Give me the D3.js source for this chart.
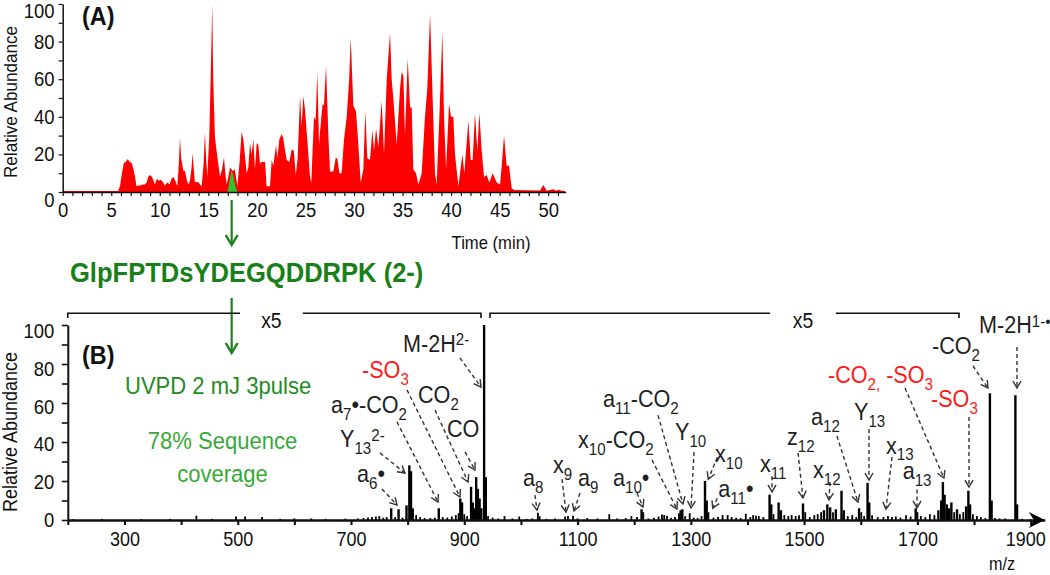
<!DOCTYPE html>
<html><head><meta charset="utf-8">
<script src="https://cdn.jsdelivr.net/npm/d3@7"></script>
<style>
body{margin:0;background:#fff;}
svg{display:block;font-family:"Liberation Sans",Arial,Helvetica,sans-serif;}
</style>
</head><body>
<svg id="c" width="1050" height="575"></svg>
<script>
// ---------------- DATA ----------------
// Panel A: base peak chromatogram (time in min, relative abundance)
const chromTimes = [0,5.7,5.9,6.1,6.3,6.5,6.7,6.9,7.1,7.3,7.45,7.6,7.8,8.0,8.2,8.4,8.65,8.8,9.0,9.2,9.4,9.5,9.7,9.9,10.1,10.3,10.5,10.8,11.0,11.2,11.4,11.6,11.8,11.95,12.08,12.2,12.42,12.6,12.8,12.94,13.1,13.25,13.38,13.5,13.62,13.8,14.0,14.14,14.31,14.5,14.65,14.75,14.89,15.1,15.3,15.4,15.5,15.68,15.85,16.02,16.2,16.4,16.61,16.75,16.88,17.05,17.23,17.4,17.57,17.7,17.85,17.98,18.2,18.43,18.6,18.8,18.94,19.12,19.29,19.45,19.63,19.8,19.98,20.15,20.32,20.45,20.59,20.84,21.0,21.35,21.52,21.69,21.97,22.1,22.31,22.55,22.7,22.9,23.07,23.34,23.58,23.8,24.0,24.2,24.44,24.6,24.78,24.95,25.3,25.47,25.6,25.88,26.05,26.22,26.4,26.5,26.77,26.9,27.12,27.36,27.53,27.87,28.11,28.28,28.49,28.73,28.97,29.25,29.5,29.66,29.93,30.21,30.45,30.69,30.96,31.17,31.37,31.65,31.89,32.06,32.27,32.51,32.85,33.09,33.37,33.71,33.88,34.05,34.4,34.74,34.91,35.08,35.25,35.53,35.77,35.94,36.11,36.39,36.63,36.97,37.31,37.55,37.83,38.1,38.34,38.51,38.79,39.1,39.27,39.48,39.79,39.99,40.23,40.4,40.75,41.16,41.36,41.78,42.02,42.22,42.46,42.7,42.91,43.15,43.39,43.66,43.94,44.28,44.69,45.04,45.21,45.45,45.72,45.96,46.24,46.48,49.16,49.5,49.84,50.53,50.8,51.04,51.4,51.73];
const chromValues = [0.5,0.5,3,10,15.5,16,17.5,16,15.5,12,8,3,3.5,3.5,4,3.8,5,8,9,8,5.5,4,7,6,6.5,5.5,3.5,5,4,7,8,6,3,14,29,18,11.5,11,6,4,6,12,20.5,12,5,5.5,5,4,3,14,31.5,20,8,30,75,100,60,29,22,15,8,12,18.4,10,4,8,13,12,11,12.5,8,3,15,32,28,18,10,13,26,20,28,12,26,25,15,16,16,16,3,3,17,14,25,18,28,30.7,29,22,17,16,22.6,22,9,18,51,35,51,44,20,8,5,40,38,64,25,32,47,46,67,30,10.8,11,17.9,18,10,10,28,40,60,82,46,42.7,25,5,12,43,18,17,33,22,33.8,24,48.4,20,60,84.4,60,49.8,25,55,63.7,62,30,71,45,45,12,10,4,10,40,55,95,50,10,4,40,85,40,12,47,40,40,20,3,20,10,38,17,17,41.8,22,42,22,8,9,5,10,5,4,14,30,14,14,2,1,0.8,3.7,0.7,1.5,0.7,1.2,0.7,0.5];
// highlighted precursor elution (green)
const greenTimes  = [16.95,17.1,17.25,17.4,17.55,17.7,17.85,18.0];
const greenValues = [0,3,8,11.7,9,5,2,0];
const xTicksA = d3.range(0,52,1);      // labelled every 5 min
const yTicksA = d3.range(0,101,10);    // labelled every 20

// Panel B: UVPD spectrum (m/z, displayed relative abundance)
const specMz  = [210,260,330,380,427,455,497,513,543,575,600,630,655,690,712,722,730,737,744,750,757,763,771,778,784,791,798,803,806,809,815,822,830,840,848,855,862,870,878,885,890,893,896,900,905,912,915,918,921,924,927,930,935,938,942,
950,960,971,985,997,1010,1020,1030,1033,1045,1060,1078,1083,1092,1100,1117,1135,1156,1170,1185,1195,1205,1213,1216,1225,1235,1243,1249,1253,1258,1265,1272,1279,1282,1285,1290,1298,1305,1312,1319,1325,1328,1331,1340,1348,1356,1365,1372,1380,1388,1397,1405,1410,1415,1420,1428,1439,1442,1446,1455,1459,1465,1472,1478,1485,1491,1498,1502,1510,1518,1524,1530,1535,1541,1546,1551,1556,1566,1570,1577,1585,1592,1597,1601,1606,1612,1615,1620,1630,1640,1648,1655,1662,1670,1680,1688,1697,1700,1706,1714,1722,1730,1737,1742,1745,1748,1752,1756,1760,1765,1770,1775,1781,1786,1790,1793,1798,1805,1812,1820,1828,1831,1837,1845,1855,1873,1876,1885,1900,1915];
const specInt = [0.5,0.6,0.5,0.6,2.2,0.6,1.8,1.8,1.5,0.6,0.8,0.8,0.6,0.7,0.8,1.0,1.3,1.5,1.8,2.0,1.2,1.5,6,1.5,5.5,1.2,7.5,28,25,6,2.5,1.5,1.0,1.0,1.2,6,1.5,1.2,1.8,2.5,3.5,11,9,3,2,17,9,6,22,16,11,6,100,22,2,
1.2,0.8,2,0.8,1.8,0.6,0.8,3.7,2,0.6,0.8,1.8,2,2.2,0.8,1.0,0.8,3,0.8,1.0,2,1.5,5.5,4,0.8,1.2,1.8,2.8,2.6,2.2,1.2,1.5,3.5,5,5.5,2,3.5,1.2,1.0,2,20,10,4,1.2,1.5,2.5,2.5,1.5,1.2,1.0,3.2,1.5,2.5,2.2,2.0,1.5,13,8,3,9,5,2.5,2,2.5,2,2.5,8.5,4,1.5,2.5,3,4,5,8,6.5,4,5.5,15,5,2,2.5,1.5,6,4,2,19,9,2.5,1.5,1.5,2,1.5,1.8,1.2,2.5,1.8,6,4,2,1.5,3,2.5,5,10,19.5,13,8,6,9,4,5.5,3,4,7,15,8,3,2,1.5,1,65,10,1,0.8,0.8,64,8,0.6,0.5,0.5];
const xTicksB = d3.range(200,1901,100);  // labelled at 300, 500, ... 1900
const yTicksB = d3.range(0,101,10);      // labelled every 20

// Fragment annotations: label text, label anchor (m/z, abundance), arrow start and end
const annText = ["M-2H^{2-}","-SO_{3}","CO_{2}","a_{7}•-CO_{2}","CO","Y_{13}^{2-}","a_{6}•","a_{8}","x_{9}","a_{9}","a_{10}•","x_{10}-CO_{2}","a_{11}-CO_{2}","Y_{10}","x_{10}","a_{11}•","x_{11}","z_{12}","x_{12}","a_{12}","Y_{13}","x_{13}","a_{13}","-CO_{2,} -SO_{3}","-SO_{3}","-CO_{2}","M-2H^{1-•}"];
const annMz   = [791.8,719.4,818.3,664.7,869.5,680.6,710.6,1003.6,1056.6,1100.8,1162.5,1100.8,1144.9,1272,1342.6,1348.5,1422.1,1469.7,1515.6,1512.1,1588,1644.5,1674,1542.1,1724,1725.8,1808.7];
const annInt  = [86.2,72.8,60.0,54.9,42.6,37.4,19.5,17.4,24.1,17.4,17.4,36.9,57.9,41.0,29.7,11.8,24.6,38.5,21.5,48.7,51.3,34.0,20.8,70.3,57.9,85.1,95.9];
const arrowFromMz  = [892.4,798.9,848.3,781.2,901.3,751.2,754.7,1024.8,1072.5,1104.3,1204.9,1231.4,1242,1305.6,1346.7,1346.7,1443.3,1489.2,1545.7,1558,1614.5,1655.1,1699.3,1678.1,1791.1,1798.1,1875.8];
const arrowFromInt = [83.1,66.7,56.4,50.3,34.9,34.4,15.9,12.8,21.0,13.8,13.8,30.8,53.8,34.9,32.2,11.1,22.5,34.4,19.5,43.1,46.7,32.3,15.6,67.7,52.8,79.0,88.7];
const arrowToMz    = [929.5,892.4,906.6,853.6,918.9,795.3,781.2,1028.4,1079.6,1093.7,1215.5,1275.5,1286.1,1300.3,1330.8,1338.6,1443.3,1498,1543.9,1595.1,1614.5,1644.5,1699.3,1746.9,1791.1,1824.6,1875.8];
const arrowToInt   = [68.2,11.8,19.5,9.2,25.6,24.1,7.7,5.1,4.1,4.6,6.7,5.6,8.2,6.2,20.9,6.0,14.4,11.3,10.3,9.2,20.5,5.6,6.2,21.5,16.9,67.7,67.7];
const sulfateLabels = ["-SO_{3}","-CO_{2,} -SO_{3}"];   // drawn in red

// x5 magnification brackets (m/z)
const bracketStart = [200,945.4];
const bracketEnd   = [929.5,1773.4];
const gapStart     = [504,1440];
const gapEnd       = [615,1556];
const bracketLabel = ["x5","x5"];

// Texts
const peptide = "GlpFPTDsYDEGQDDRPK (2-)";
const method1 = "UVPD 2 mJ 3pulse";
const method2 = ["78% Sequence","coverage"];

// ---------------- DRAW ----------------
const FONT = '"Liberation Sans", Arial, Helvetica, sans-serif';
const SX = 0.9; // horizontal text compression of the original
const svg = d3.select('#c');
const defs = svg.append('defs');
defs.append('marker').attr('id','dh').attr('markerUnits','userSpaceOnUse')
  .attr('markerWidth',14).attr('markerHeight',14).attr('viewBox','-10 -7 12 14')
  .attr('refX',0).attr('refY',0).attr('orient','auto')
  .append('path').attr('d','M-7,-4L0,0L-7,4').attr('fill','none')
  .attr('stroke','#333').attr('stroke-width',1.4);
defs.append('marker').attr('id','gh').attr('markerUnits','userSpaceOnUse')
  .attr('markerWidth',20).attr('markerHeight',20).attr('viewBox','-14 -10 16 20')
  .attr('refX',0).attr('refY',0).attr('orient','auto')
  .append('path').attr('d','M-10,-6L0,0L-10,6').attr('fill','none')
  .attr('stroke','#1b7f1b').attr('stroke-width',2.4);

function rich(parent, x, y, markup, size, color, anchor, weight){
  const g = parent.append('g').attr('transform',`translate(${x},${y}) scale(${SX},1)`);
  const t = g.append('text').attr('font-size',size).attr('fill',color)
    .attr('text-anchor',anchor||'start').attr('font-weight',weight||'normal').attr('font-family',FONT);
  const parts = markup.match(/_\{[^}]*\}|\^\{[^}]*\}|[^_^]+/g);
  let off = 0;
  parts.forEach(p=>{
    let mode=0, s=p;
    if(p.startsWith('_{')){mode=1;s=p.slice(2,-1);} else if(p.startsWith('^{')){mode=2;s=p.slice(2,-1);}
    const target = mode===1 ? size*0.28 : mode===2 ? -size*0.27 : 0;
    t.append('tspan').attr('dy',target-off).attr('font-size',mode?size*0.7:size).text(s);
    off = target;
  });
  return g;
}
function styleAxis(g, fs, sw){
  g.select('.domain').attr('stroke','#111').attr('stroke-width',sw);
  g.selectAll('.tick line').attr('stroke','#111').attr('stroke-width',sw*0.8);
  g.selectAll('.tick text').attr('font-size',fs).attr('font-family',FONT).attr('fill','#111')
    .attr('transform',`scale(${SX},1)`);
}

// ----- Panel A -----
const xA = d3.scaleLinear().domain([0,51.8]).range([62.7,565.7]);
const yA = d3.scaleLinear().domain([0,100]).range([192,4]);
const chrom = chromTimes.map((t,i)=>[t,chromValues[i]]);
const green = greenTimes.map((t,i)=>[t,greenValues[i]]);
const areaA = d3.area().x(d=>xA(d[0])).y0(yA(0)).y1(d=>yA(d[1]));
svg.append('path').datum(chrom).attr('d',areaA).attr('fill','#ff0000');
svg.append('path').datum(green).attr('d',areaA).attr('fill','#2fc42f');

const axAx = svg.append('g').attr('transform',`translate(0,${yA(0)})`)
  .call(d3.axisBottom(xA).tickValues(xTicksA).tickFormat(d=>d%5===0?d:'').tickSize(4).tickPadding(6).tickSizeOuter(0));
styleAxis(axAx,20.5,1.5);
const axAy = svg.append('g').attr('transform',`translate(${xA(0)},0)`)
  .call(d3.axisLeft(yA).tickValues(yTicksA).tickFormat(d=>d%20===0?d:'').tickSize(4).tickPadding(5).tickSizeOuter(0));
styleAxis(axAy,20.5,1.5);
axAy.selectAll('.tick text').filter(d=>d===0).attr('dy','0.7em');
axAy.selectAll('.tick text').filter(d=>d===100).attr('dy','0.68em');

svg.append('g').attr('transform',`translate(17,102) rotate(-90) scale(${SX},1)`)
  .append('text').attr('text-anchor','middle').attr('font-size',19).attr('fill','#111').text('Relative Abundance');
rich(svg,82,25,'(A)',26,'#111','start','bold');
rich(svg,491,249,'Time (min)',18.5,'#111','middle');

// green arrows and peptide
const gx = xA(greenTimes[3]);
svg.append('line').attr('x1',gx).attr('x2',gx).attr('y1',200).attr('y2',245)
  .attr('stroke','#1b7f1b').attr('stroke-width',2.2).attr('marker-end','url(#gh)');
rich(svg,70,282,peptide,28.4,'#188018','start','bold');
svg.append('line').attr('x1',gx).attr('x2',gx).attr('y1',298).attr('y2',353)
  .attr('stroke','#1b7f1b').attr('stroke-width',2.2).attr('marker-end','url(#gh)');

// ----- Panel B -----
const xB = d3.scaleLinear().domain([200,1925]).range([67.8,67.8+1725*0.5664]);
const yB = d3.scaleLinear().domain([0,100]).range([520,325]);

svg.append('g').selectAll('line').data(specMz.map((m,i)=>[m,specInt[i]])).join('line')
  .attr('x1',d=>xB(d[0])).attr('x2',d=>xB(d[0]))
  .attr('y1',yB(0)).attr('y2',d=>yB(d[1]))
  .attr('stroke','#000').attr('stroke-width',d=>d[1]>4?2.4:1.8);

const axBx = svg.append('g').attr('transform',`translate(0,${yB(0)})`)
  .call(d3.axisBottom(xB).tickValues(xTicksB).tickFormat(d=>(d/100)%2===1?d:'').tickSize(5).tickPadding(7).tickSizeOuter(0));
styleAxis(axBx,20,2.6);
axBx.selectAll('.tick text').filter(d=>d===1900).attr('x',-6);
const axEnd = xB.range()[1];
svg.append('path').attr('d',`M${axEnd},${yB(0)}L${axEnd-16},${yB(0)-8}L${axEnd-11},${yB(0)}L${axEnd-16},${yB(0)+8}Z`).attr('fill','#000');
const axBy = svg.append('g').attr('transform',`translate(${xB(200)},0)`)
  .call(d3.axisLeft(yB).tickValues(yTicksB).tickFormat(d=>d%20===0?d:'').tickSize(6).tickPadding(9).tickSizeOuter(0));
styleAxis(axBy,20.5,2);
axBy.selectAll('.tick text').attr('y',d=>d*0.06);

svg.append('g').attr('transform',`translate(16.5,432) rotate(-90) scale(${SX},1)`)
  .append('text').attr('text-anchor','middle').attr('font-size',20).attr('fill','#111').text('Relative Abundance');
rich(svg,82,364,'(B)',26,'#111','start','bold');
rich(svg,1002,570,'m/z',18,'#111','middle');

// x5 brackets
const by = yB(106), bt = yB(103.6);
bracketStart.forEach((s,i)=>{
  const e = bracketEnd[i];
  svg.append('path').attr('d',`M${xB(s)},${bt}V${by}H${xB(gapStart[i])}M${xB(gapEnd[i])},${by}H${xB(e)}V${bt}`)
    .attr('fill','none').attr('stroke','#111').attr('stroke-width',1.6);
  rich(svg,(xB(gapStart[i])+xB(gapEnd[i]))/2,yB(98.5),bracketLabel[i],21.5,'#111','middle');
});

// method text
rich(svg,125,394,method1,24.5,'#1e8c1e','start');
rich(svg,222.5,449,method2[0],24.5,'#36aa36','middle');
rich(svg,222.5,482,method2[1],24.5,'#36aa36','middle');

// annotations
annText.forEach((t,i)=>{
  svg.append('line')
    .attr('x1',xB(arrowFromMz[i])).attr('y1',yB(arrowFromInt[i]))
    .attr('x2',xB(arrowToMz[i])).attr('y2',yB(arrowToInt[i]))
    .attr('stroke','#333').attr('stroke-width',1.4).attr('stroke-dasharray','4,3')
    .attr('marker-end','url(#dh)');
  const col = sulfateLabels.includes(t) ? '#ff1a1a' : '#1f1f1f';
  rich(svg,xB(annMz[i]),yB(annInt[i]),t,24,col,'start');
});
</script>
</body></html>
